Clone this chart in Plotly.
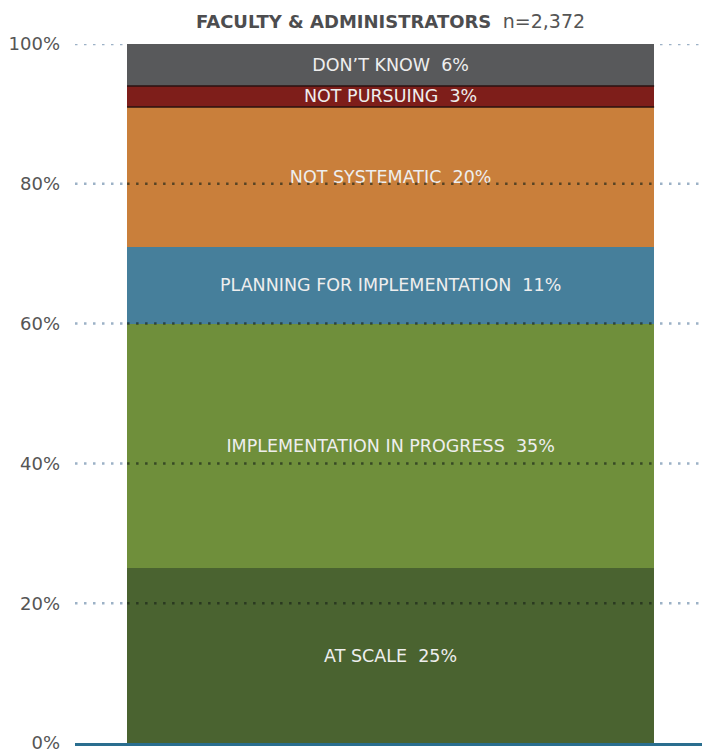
import itertools
import plotly.graph_objects as go

categories = ["AT SCALE", "IMPLEMENTATION IN PROGRESS", "PLANNING FOR IMPLEMENTATION",
              "NOT SYSTEMATIC", "NOT PURSUING", "DON\u2019T KNOW"]
values = [25, 35, 11, 20, 3, 6]
colors = ["#4a6330", "#6f8f3b", "#467f9b", "#c97f3b", "#7e1e1a", "#58595b"]
edged = [False, False, False, False, True, False]
tick_vals = [0, 20, 40, 60, 80, 100]
tick_text = ["0%", "20%", "40%", "60%", "80%", "100%"]
title_bold = "FACULTY & ADMINISTRATORS"
title_n = "n=2,372"

FONT = "DejaVu Sans"
BAR_W = 0.83
fig = go.Figure()
for cat, val, col in zip(categories, values, colors):
    fig.add_trace(go.Bar(
        x=[0], y=[val], width=[BAR_W], name=cat,
        marker=dict(color=col, line=dict(width=0)),
        text=[f"{cat}\u00a0\u00a0{val}%"], textposition="inside",
        insidetextanchor="middle", textangle=0, constraintext="none",
        textfont=dict(family=FONT, size=17.5, color="#eeeeee"),
        hoverinfo="skip", showlegend=False,
    ))

# thin dark separators around the edged segment(s)
tops = list(itertools.accumulate(values))
bottoms = [t - v for t, v in zip(tops, values)]
for b, t, e in zip(bottoms, tops, edged):
    if e:
        for yv in (b, t):
            fig.add_shape(type="line", xref="x", yref="y", x0=-BAR_W / 2, x1=BAR_W / 2,
                          y0=yv, y1=yv, layer="above",
                          line=dict(color="#2a1210", width=1.5))

# light dotted gridlines across the plot (below bars)
for tv in tick_vals[1:]:
    fig.add_shape(type="line", xref="paper", yref="y", x0=0, x1=1.02,
                  y0=tv, y1=tv, layer="below",
                  line=dict(color="#9cb1c6", width=2.5, dash="2.5px,6.5px"))
# dark dotted gridlines drawn over the bar
for tv in tick_vals[1:-1]:
    fig.add_shape(type="line", xref="x", yref="y", x0=-BAR_W / 2, x1=BAR_W / 2,
                  y0=tv, y1=tv, layer="above",
                  line=dict(color="rgba(25,35,25,0.65)", width=2.5, dash="2.5px,6.5px"))

fig.add_annotation(
    text=f"<b>{title_bold}</b>\u00a0\u00a0<span style='font-size:19px;color:#555555'>{title_n}</span>",
    xref="paper", yref="paper", x=0.497, y=1.0515, xanchor="center", yanchor="top",
    showarrow=False, font=dict(family=FONT, size=18, color="#4d4d4f"))

fig.update_layout(
    barmode="stack", width=702, height=746,
    margin=dict(l=67, r=0, t=36, b=11),
    paper_bgcolor="white", plot_bgcolor="white",
    uniformtext=dict(minsize=17.5, mode="show"),
    xaxis=dict(range=[-0.497, 0.503], showticklabels=False, showgrid=False, zeroline=False,
               showline=True, linecolor="#2a6e8f", linewidth=3, ticks=""),
    yaxis=dict(range=[0, 100], tickvals=tick_vals, ticktext=tick_text,
               tickfont=dict(family=FONT, size=18, color="#555555"),
               showgrid=False, zeroline=False, ticks="", ticklabelstandoff=14, showline=False),
)
fig.write_html("out.html")
